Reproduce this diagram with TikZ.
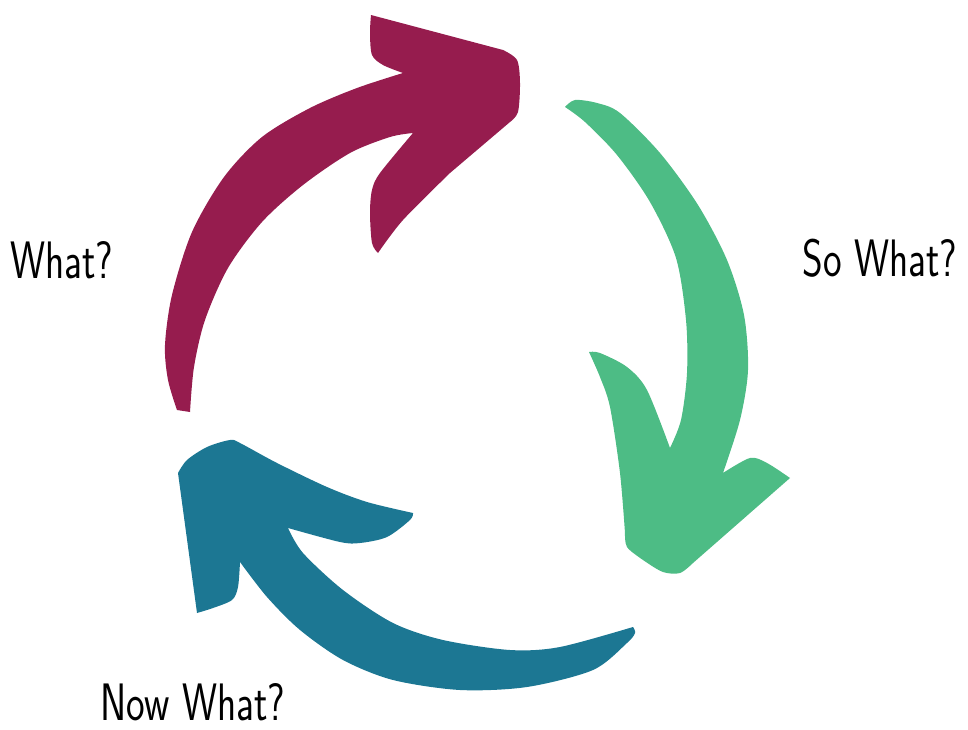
\documentclass[tikz,border=0pt]{standalone}
\usepackage{tikz}
\definecolor{whatcol}{RGB}{150,28,78}
\definecolor{sowhatcol}{RGB}{77,188,133}
\definecolor{nowwhatcol}{RGB}{28,119,147}

\begin{document}
\begin{tikzpicture}[x=0.02cm, y=-0.02cm,
    arrowshape/.style={draw=none},
    steplabel/.style={font=\sffamily\fontsize{30}{34}\selectfont, inner sep=0pt}]
\useasboundingbox (0,0) rectangle (968,730);
% What? arrow
\fill[whatcol, arrowshape]
  plot[smooth] coordinates {(177,410) (168,380) (165,345) (172,295) (192,232) (224,177) (262,137) (310,108) (357,88) (403,73)}
  -- plot[smooth] coordinates {(403,73) (383,65) (372,55) (370,33) (371,15)}
  -- plot[smooth] coordinates {(503,50) (517,60) (520,83) (518,112) (510,122)}
  -- plot[smooth] coordinates {(450,173) (403,220) (378,253)}
  -- plot[smooth] coordinates {(378,253) (372,243) (370,213) (372,190) (380,173) (413,133)}
  -- plot[smooth] coordinates {(413,133) (390,137) (350,153) (303,185) (262,222) (228,268) (205,320) (194,367) (190,412)}
  -- cycle;
% So What? arrow
\fill[sowhatcol, arrowshape]
  plot[smooth] coordinates {(565,107) (575,100) (597,103) (620,113) (660,153) (698,205) (727,260) (744,315) (748,370) (740,420) (723,473)}
  -- plot[smooth] coordinates {(723,473) (750,458) (767,463) (790,478)}
  -- plot[smooth] coordinates {(693,563) (680,573) (663,572) (643,560) (627,547) (625,533)}
  -- plot[smooth] coordinates {(625,533) (620,473) (610,407) (600,377) (589,352)}
  -- plot[smooth] coordinates {(589,352) (600,353) (627,367) (647,390) (670,448)}
  -- plot[smooth] coordinates {(670,448) (681,420) (687,373) (686,320) (676,258) (650,202) (617,155) (585,122) (565,107)}
  -- cycle;
% Now What? arrow
\fill[nowwhatcol, arrowshape]
  plot[smooth] coordinates {(633,627) (560,647) (510,650) (443,640) (393,623) (343,590) (303,553) (288,528)}
  -- plot[smooth] coordinates {(288,528) (340,542) (360,543) (387,537) (410,520) (413,513)}
  -- plot[smooth] coordinates {(413,513) (367,502) (327,487) (277,463) (240,443) (230,440) (207,447) (187,460) (178,473)}
  -- plot[smooth] coordinates {(197,613) (213,608) (232,600) (238,587) (240,562)}
  -- plot[smooth] coordinates {(240,562) (267,597) (300,630) (343,660) (393,680) (460,690) (527,687) (593,670) (627,643) (635,633) (633,627)}
  -- cycle;
% labels
\node[steplabel] (what) at (62,260) {\scalebox{0.75}[1]{What?}};
\node[steplabel] (sowhat) at (880,258) {\scalebox{0.75}[1]{So What?}};
\node[steplabel] (nowwhat) at (193,702) {\scalebox{0.75}[1]{Now What?}};
\end{tikzpicture}
\end{document}
